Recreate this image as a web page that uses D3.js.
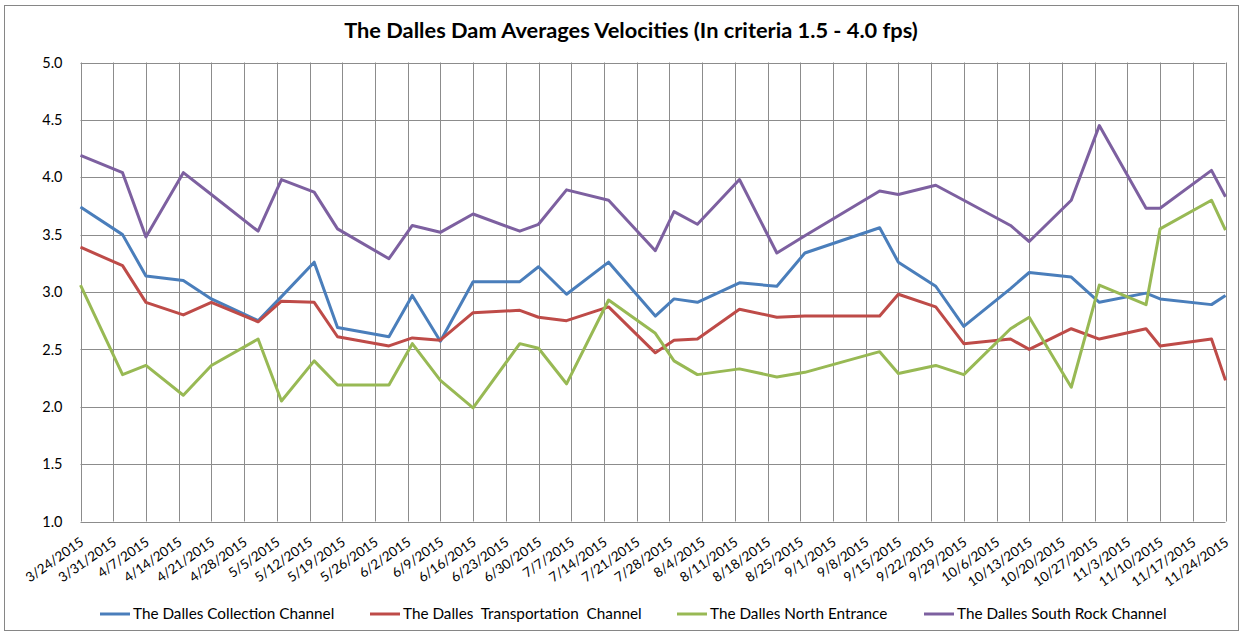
<!DOCTYPE html>
<html>
<head>
<meta charset="utf-8">
<script src="https://cdn.jsdelivr.net/npm/d3@7"></script>
<style>
  body { margin: 0; background: #fff; }
  text { font-family: Lato, "Noto Sans", sans-serif; fill: #000; }
</style>
</head>
<body>
<div id="chart"></div>
<script>
// sample dates (m/d/yyyy)
const dates = ["3/24/2015","4/2/2015","4/7/2015","4/15/2015","4/21/2015","5/1/2015","5/6/2015",
  "5/13/2015","5/18/2015","5/29/2015","6/3/2015","6/9/2015","6/16/2015","6/26/2015","6/30/2015",
  "7/6/2015","7/15/2015","7/25/2015","7/29/2015","8/3/2015","8/12/2015","8/20/2015","8/26/2015",
  "9/11/2015","9/15/2015","9/23/2015","9/29/2015","10/9/2015","10/13/2015","10/22/2015",
  "10/28/2015","11/7/2015","11/10/2015","11/21/2015","11/24/2015"];

const collection = [3.74,3.50,3.14,3.10,2.94,2.75,2.96,3.26,2.69,2.61,2.97,2.57,3.09,3.09,3.22,
  2.98,3.26,2.79,2.94,2.91,3.08,3.05,3.34,3.56,3.26,3.05,2.70,3.03,3.17,3.13,2.91,2.99,2.94,2.89,2.97];
const transportation = [3.39,3.23,2.91,2.80,2.91,2.74,2.92,2.91,2.61,2.53,2.60,2.58,2.82,2.84,2.78,
  2.75,2.87,2.47,2.58,2.59,2.85,2.78,2.79,2.79,2.98,2.87,2.55,2.59,2.50,2.68,2.59,2.68,2.53,2.59,2.23];
const northEntrance = [3.06,2.28,2.36,2.10,2.36,2.59,2.05,2.40,2.19,2.19,2.55,2.23,1.99,2.55,2.51,
  2.20,2.93,2.64,2.40,2.28,2.33,2.26,2.30,2.48,2.29,2.36,2.28,2.68,2.78,2.17,3.06,2.89,3.55,3.80,3.54];
const southRock = [4.19,4.04,3.48,4.04,3.85,3.53,3.98,3.87,3.55,3.29,3.58,3.52,3.68,3.53,3.59,
  3.89,3.80,3.36,3.70,3.59,3.98,3.34,3.49,3.88,3.85,3.93,3.80,3.58,3.44,3.80,4.45,3.73,3.73,4.06,3.83];

const seriesNames = ["The Dalles Collection Channel", "The Dalles  Transportation  Channel",
  "The Dalles North Entrance", "The Dalles South Rock Channel"];
const seriesColors = ["#4a7ebb", "#be4b48", "#98b954", "#7d60a0"];
const yTicks = [1.0, 1.5, 2.0, 2.5, 3.0, 3.5, 4.0, 4.5, 5.0];
const firstTick = "3/24/2015", lastTick = "11/24/2015";

const width = 1243, height = 635;
const plot = { left: 80.5, right: 1225.5, top: 62.5, bottom: 521.5 };

const parse = d3.utcParse("%m/%d/%Y");
const fmt = d3.utcFormat("%-m/%-d/%Y");
const xTicks = d3.utcDay.range(parse(firstTick), d3.utcDay.offset(parse(lastTick), 1), 7);

const svg = d3.select("#chart").append("svg")
    .attr("width", width)
    .attr("height", height);

// chart area border
svg.append("rect")
    .attr("x", 4.5).attr("y", 5.5)
    .attr("width", 1234).attr("height", 625)
    .attr("fill", "#fff")
    .attr("stroke", "#868686");

const x = d3.scaleUtc()
    .domain([parse(firstTick), parse(lastTick)])
    .range([plot.left, plot.right]);
const y = d3.scaleLinear()
    .domain([1, 5])
    .range([plot.bottom, plot.top]);

// gridlines
svg.append("g")
    .selectAll("line")
    .data(yTicks)
    .join("line")
    .attr("x1", plot.left).attr("x2", plot.right)
    .attr("y1", d => Math.round(y(d)) + 0.5).attr("y2", d => Math.round(y(d)) + 0.5)
    .attr("stroke", "#8c8c8c");
svg.append("g")
    .selectAll("line")
    .data(xTicks)
    .join("line")
    .attr("x1", d => Math.round(x(d)) + 0.5).attr("x2", d => Math.round(x(d)) + 0.5)
    .attr("y1", plot.top).attr("y2", plot.bottom)
    .attr("stroke", "#8c8c8c");

// y axis labels
const yAxis = d3.axisLeft(y).tickValues(yTicks).tickFormat(d3.format(".1f")).tickSize(0).tickPadding(18);
svg.append("g")
    .attr("transform", `translate(${plot.left},0)`)
    .call(yAxis)
    .call(g => g.select(".domain").remove())
    .selectAll("text")
    .style("font-size", "14.5px")
    .attr("fill", "#000");

// x axis labels
const xAxis = d3.axisBottom(x).tickValues(xTicks).tickFormat(fmt).tickSize(0).tickPadding(0);
svg.append("g")
    .attr("transform", `translate(0,${plot.bottom})`)
    .call(xAxis)
    .call(g => g.select(".domain").remove())
    .selectAll("text")
    .style("font-size", "13.5px")
    .attr("fill", "#000")
    .attr("text-anchor", "end")
    .attr("dy", "0.35em")
    .attr("y", 0)
    .attr("transform", "translate(1,19) rotate(-35)");

// lines
const allSeries = [collection, transportation, northEntrance, southRock];
const line = d3.line()
    .x((d, i) => x(parse(dates[i])))
    .y(d => y(d));
svg.append("g")
    .selectAll("path")
    .data(allSeries)
    .join("path")
    .attr("d", line)
    .attr("fill", "none")
    .attr("stroke", (d, i) => seriesColors[i])
    .attr("stroke-width", 3)
    .attr("stroke-linejoin", "round");

// title
svg.append("text")
    .attr("x", 631)
    .attr("y", 38)
    .attr("text-anchor", "middle")
    .style("font-size", "21.8px")
    .style("font-weight", "bold")
    .text("The Dalles Dam Averages Velocities (In criteria 1.5 - 4.0 fps)");

// legend
const legendX = [100, 370, 677, 924];
const legend = svg.append("g")
    .selectAll("g")
    .data(seriesNames)
    .join("g")
    .attr("transform", (d, i) => `translate(${legendX[i]},614)`);
legend.append("line")
    .attr("x1", 0).attr("x2", 30)
    .attr("stroke", (d, i) => seriesColors[i])
    .attr("stroke-width", 3);
legend.append("text")
    .attr("x", 33)
    .attr("dy", "0.35em")
    .style("font-size", "15.3px")
    .style("white-space", "pre")
    .text(d => d);
</script>
</body>
</html>
